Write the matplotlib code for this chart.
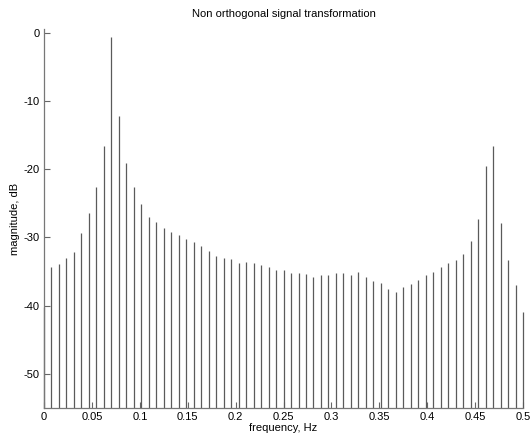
import matplotlib
matplotlib.use("Agg")
import matplotlib.pyplot as plt
import numpy as np

# magnitude of each FFT bin (dB), bins 0..64 of a 128-point transform
magnitude_db = [
    -40.2, -34.4, -33.9, -33.0, -32.2, -29.4, -26.4, -22.6, -16.6, -0.6,
    -12.2, -19.1, -22.7, -25.1, -27.1, -27.8, -28.6, -29.2, -29.7, -30.2,
    -30.7, -31.3, -32.0, -32.7, -33.1, -33.2, -33.8, -33.6, -33.8, -34.0,
    -34.4, -34.8, -34.8, -35.2, -35.2, -35.4, -35.8, -35.5, -35.6, -35.3,
    -35.2, -35.5, -35.1, -35.8, -36.4, -36.7, -37.6, -38.0, -37.3, -36.8,
    -36.3, -35.5, -35.1, -34.4, -33.7, -33.3, -32.5, -30.6, -27.3, -19.5,
    -16.6, -27.9, -33.3, -37.0, -41.0,
]
n_fft = 128
freq = np.arange(len(magnitude_db)) / n_fft

x_ticks = [0, 0.05, 0.1, 0.15, 0.2, 0.25, 0.3, 0.35, 0.4, 0.45, 0.5]
x_tick_labels = ["0", "0.05", "0.1", "0.15", "0.2", "0.25", "0.3", "0.35", "0.4", "0.45", "0.5"]
y_ticks = [-50, -40, -30, -20, -10, 0]

plt.rcParams["font.family"] = ["Liberation Sans", "DejaVu Sans"]
plt.rcParams["axes.unicode_minus"] = False

fig = plt.figure(figsize=(5.3, 4.4), dpi=100)
ax = fig.add_axes([0.083, 0.073, 0.904, 0.86])

y_bottom = -55
ax.vlines(freq, y_bottom, magnitude_db, colors="#5a5a5a", linewidth=0.9,
          clip_on=False)

ax.set_xlim(0, 0.5)
ax.set_ylim(y_bottom, 0.45)
ax.set_xticks(x_ticks)
ax.set_xticklabels(x_tick_labels)
ax.set_yticks(y_ticks)

# matlab-ish look: only left/bottom axis, ticks pointing inward
for side in ["top", "right"]:
    ax.spines[side].set_visible(False)
for side in ["left", "bottom"]:
    ax.spines[side].set_color("#777777")
    ax.spines[side].set_linewidth(0.9)
ax.tick_params(direction="in", length=4, width=0.8, color="#666666",
               labelsize=8, pad=3)

ax.set_title("Non orthogonal signal transformation", fontsize=8, pad=9)
ax.set_xlabel("frequency, Hz", fontsize=8, labelpad=1)
ax.set_ylabel("magnitude, dB", fontsize=8, labelpad=3)

fig.savefig("out.png", dpi=100)
